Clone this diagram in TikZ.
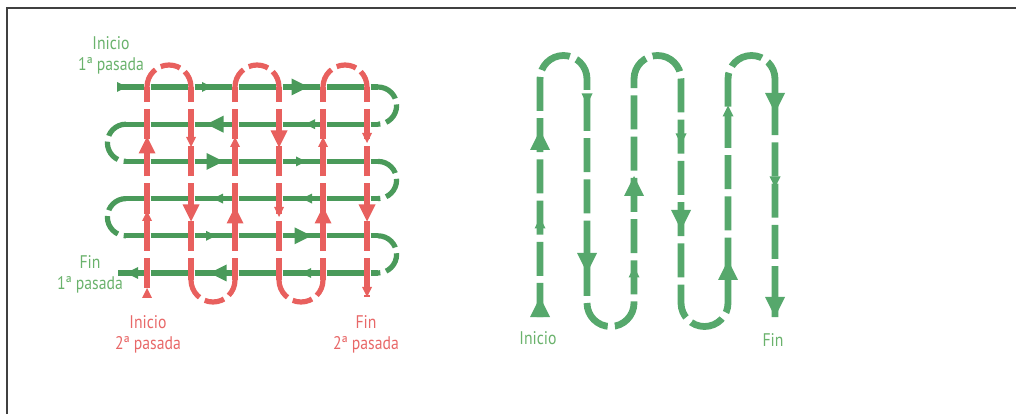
\documentclass[tikz,border=0pt]{standalone}
\usepackage{xcolor}
\usepackage{fontspec}
\usepackage{tikz}
\usetikzlibrary{arrows.meta}
\newfontfamily\labelfont[FakeStretch=0.86]{PT Sans}
\definecolor{pasegreen}{RGB}{74,154,90}
\definecolor{pasered}{RGB}{232,96,94}
\definecolor{loopgreen}{RGB}{86,168,108}
\definecolor{txtgreen}{RGB}{106,178,108}
\definecolor{txtred}{RGB}{232,104,104}
\tikzset{
	greenrow/.style={pasegreen, line width=0.13cm, dash pattern=on 0.925cm off 0.175cm},
	greenarc/.style={pasegreen, line width=0.13cm, dash pattern=on 0.55cm off 0.15cm},
	redcol/.style={pasered, line width=0.13cm, dash pattern=on 0.755cm off 0.175cm},
	redarc/.style={pasered, line width=0.13cm, dash pattern=on 0.5cm off 0.15cm},
	loopline/.style={loopgreen, line width=0.17cm, dash pattern=on 0.85cm off 0.18cm},
	lbl/.style={font=\labelfont\fontsize{13pt}{15pt}\selectfont, align=center},
}
\begin{document}
\begin{tikzpicture}[x=0.025cm, y=0.025cm]
		\useasboundingbox (0,0) rectangle (1016,414);
		\draw[line width=0.05cm, black!75] (7,0) -- (7,406) -- (1016,406);
		
		\foreach \y/\xs/\ph in {
			327/118/0.2875, 289.8/126/0.4875, 252.6/126/0.4875,
			215.4/126/0.4875, 178.2/126/0.4875, 141/118/0.2875
			}{
				\draw[greenrow, dash phase=\ph cm] (\xs,\y) -- (378,\y);
			};
		\foreach \y in {327, 252.6, 178.2}
			\draw[greenarc] (378,\y) arc[start angle=90, end angle=-90, radius=18.6];
		\foreach \y in {289.8, 215.4}
			\draw[greenarc] (126,\y) arc[start angle=90, end angle=270, radius=18.6];
		
		\foreach \px/\py/\s/\a in {
			122/327/5/0, 207/327/5/0, 300/327/8.5/0,
			215/289.8/8.5/180, 310/289.8/5/180,
			215/252.6/8.5/0, 301/252.6/5/0,
			218/215.4/5/180, 307/215.4/5/180,
			211/178.2/5/0, 303/178.2/8.5/0,
			218/141/8.5/180, 306/141/5/180, 132/141/6/180
			}{
				\fill[pasegreen, shift={(\px,\py)}, rotate=\a] (\s,0) -- (-\s,\s) -- (-\s,-\s) -- cycle;
			};
		
		\foreach \x/\ys/\ph in {
			147/116/0.6825, 191/134/0.2025, 235/134/0.2025,
			279/134/0.2025, 323/134/0.2025, 367/117/0.7075
			}{
				\draw[redcol, dash phase=\ph cm] (\x,\ys) -- (\x,327);
			};
		\foreach \x in {147, 235, 323}
			\draw[redarc] (\x,327) arc[start angle=180, end angle=0, radius=22];
		\foreach \x in {191, 279}
			\draw[redarc] (\x,134) arc[start angle=180, end angle=360, radius=22];
		
		\foreach \px/\py/\s/\a in {
			147/121/5/90, 147/269/8.5/90, 147/198/5/90,
			191/272/5/-90, 191/201/8.5/-90,
			235/272/5/90, 235/199/8.5/90,
			279/275/8.5/-90, 279/202/5/-90,
			323/272/5/90, 323/199/8.5/90,
			367/276/5/-90, 367/201/8.5/-90, 367/122/5/-90
			}{
				\fill[pasered, shift={(\px,\py)}, rotate=\a] (\s,0) -- (-\s,\s) -- (-\s,-\s) -- cycle;
			};
		
		\draw[loopline] (540,97) -- (540,335) arc[start angle=180, end angle=0, radius=23.5]
			-- (587,111) arc[start angle=180, end angle=360, radius=23.5]
			-- (634,335) arc[start angle=180, end angle=0, radius=23.5]
			-- (681,111) arc[start angle=180, end angle=360, radius=23.5]
			-- (728,335) arc[start angle=180, end angle=0, radius=23.5]
			-- (775,97);
		
		\foreach \px/\py/\s/\a in {
			540/107/10/90, 540/191/5.5/90, 540/274/10/90,
			587/315/5.5/-90, 587/151/10/-90,
			634/142/5.5/90, 634/228/10/90,
			681/275/5.5/-90, 681/194/10/-90,
			728/144/10/90, 728/303/5.5/90,
			775/311/10/-90, 775/232/5.5/-90, 775/107/10/-90
			}{
				\fill[loopgreen, shift={(\px,\py)}, rotate=\a] (\s,0) -- (-\s,\s) -- (-\s,-\s) -- cycle;
			};
		
		\node[lbl, txtgreen] (start1) at (111,359) {Inicio\\1ª pasada};
		\node[lbl, txtgreen] (end1) at (90,140) {Fin\\1ª pasada};
		\node[lbl, txtred] (start2) at (148,80) {Inicio\\2ª pasada};
		\node[lbl, txtred] (end2) at (366,80) {Fin\\2ª pasada};
		\node[lbl, txtgreen] (startr) at (538,76) {Inicio};
		\node[lbl, txtgreen] (endr) at (773,74) {Fin};
		
		\end{tikzpicture}
\end{document}
